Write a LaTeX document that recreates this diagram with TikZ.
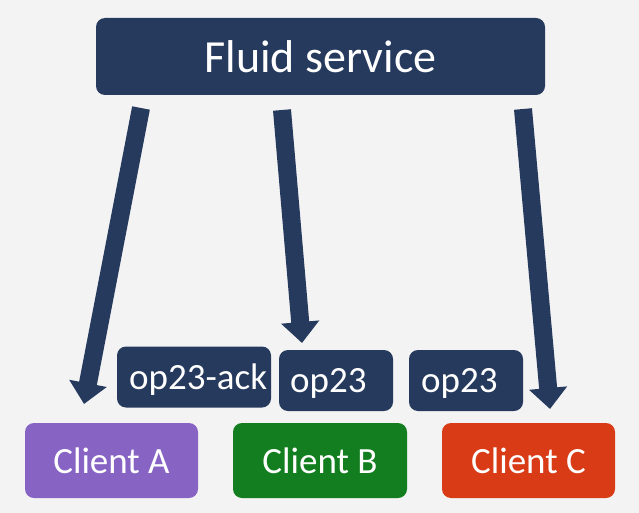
\documentclass[tikz,border=0pt]{standalone}
\usepackage{fontspec}
\setmainfont{Carlito}
\usetikzlibrary{arrows.meta}
\definecolor{navy}{RGB}{38,58,94}
\definecolor{bgc}{RGB}{243,243,243}
\definecolor{cpurple}{RGB}{135,100,196}
\definecolor{cgreen}{RGB}{19,126,31}
\definecolor{cred}{RGB}{216,59,22}
\tikzset{
  box/.style={draw=none, rounded corners=9pt, inner sep=0pt},
  bigtext/.style={text=white, font=\fontsize{46}{55}\selectfont},
  smalltext/.style={text=white, font=\fontsize{37}{44}\selectfont},
  flow/.style={draw=navy, line width=18pt, -{Triangle[width=37pt,length=21pt]}},
}
\begin{document}
\begin{tikzpicture}[x=1pt,y=-1pt]
\fill[bgc] (0,0) rectangle (639,513);
\useasboundingbox (0,0) rectangle (639,513);
% service
\node[box, fill=navy, minimum width=449pt, minimum height=77pt, bigtext] (svc) at (320.5,56.5) {Fluid service};
% clients
\node[box, fill=cpurple, minimum width=173pt, minimum height=75pt, smalltext] (ca) at (111.5,460.5) {Client A};
\node[box, fill=cgreen, minimum width=174pt, minimum height=75pt, smalltext] (cb) at (320,460.5) {Client B};
\node[box, fill=cred, minimum width=173pt, minimum height=75pt, smalltext] (cc) at (528.5,460.5) {Client C};
% op boxes
\node[box, fill=navy, minimum width=154pt, minimum height=61pt] (oa) at (194,377) {};
\node[box, fill=navy, minimum width=114pt, minimum height=61pt] (ob) at (336,380.5) {};
\node[box, fill=navy, minimum width=114pt, minimum height=61pt] (oc) at (466,380.5) {};
\node[smalltext, anchor=base west, inner sep=0pt] (ta) at (129,389) {op23-ack};
\node[smalltext, anchor=base west, inner sep=0pt] (tb) at (290,392) {op23};
\node[smalltext, anchor=base west, inner sep=0pt] (tc) at (421,392) {op23};
% arrow endpoints
\coordinate (s1) at (141,108);
\coordinate (e1) at (84,404);
\coordinate (s2) at (282,110);
\coordinate (e2) at (302,343);
\coordinate (s3) at (523,109);
\coordinate (e3) at (550,409);
\draw[flow] (s1) -- (e1);
\draw[flow] (s2) -- (e2);
\draw[flow] (s3) -- (e3);
\end{tikzpicture}
\end{document}
